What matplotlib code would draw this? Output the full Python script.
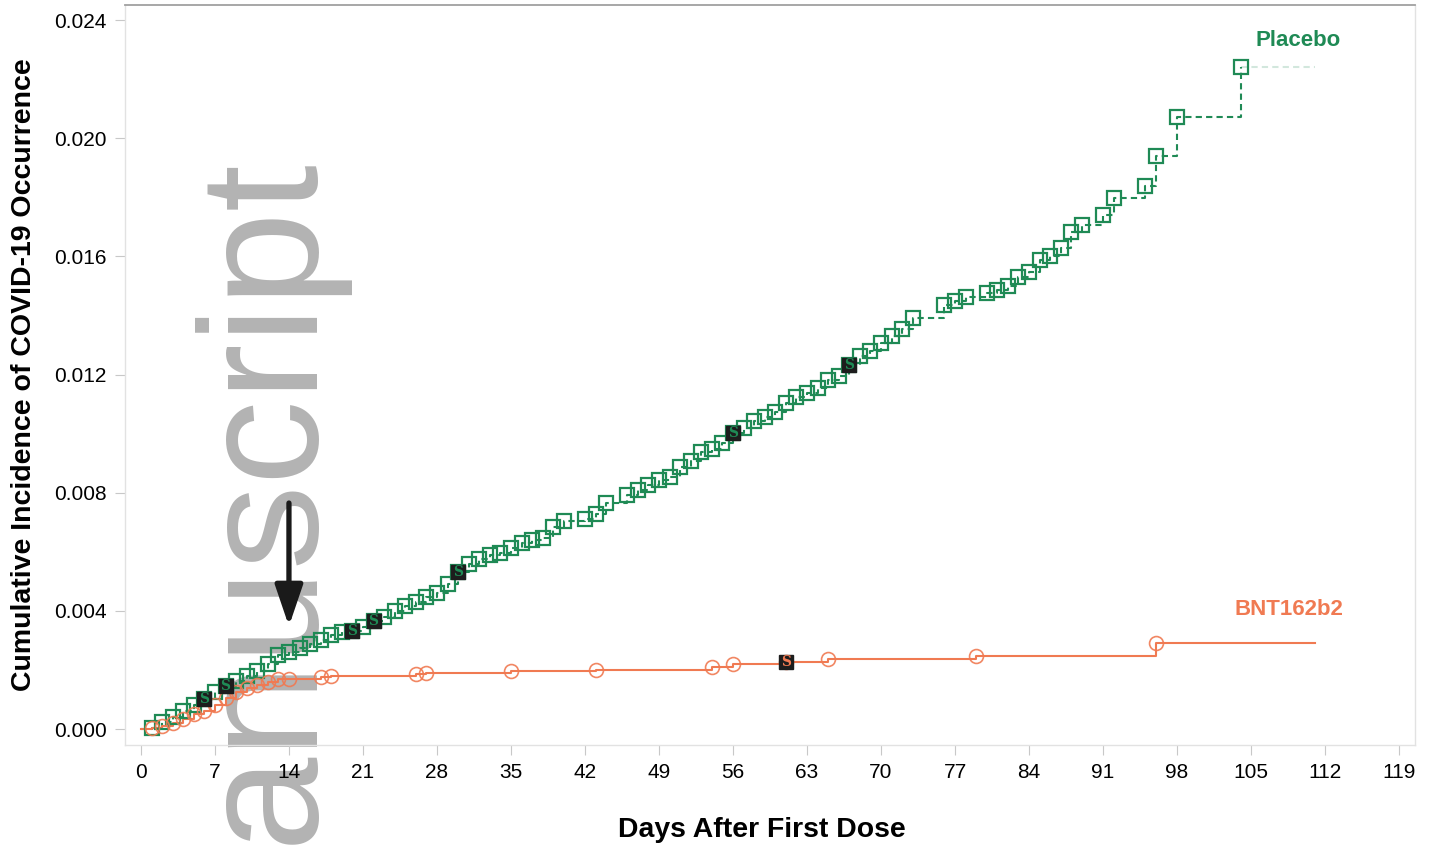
import matplotlib
matplotlib.use('Agg')
import matplotlib.pyplot as plt

plt.rcParams['font.family'] = ['Liberation Sans', 'DejaVu Sans']

# ---------------- data ----------------
placebo_days = [1, 2, 3, 4, 5, 6, 7, 8, 9, 10, 11, 12, 13, 14, 15, 16, 17, 18, 19, 20,
                21, 22, 23, 24, 25, 26, 27, 28, 29, 30, 31, 32, 33, 34, 35, 36, 37, 38, 39, 40,
                42, 43, 44, 46, 47, 48, 49, 50, 51, 52, 53, 54, 55, 56, 57, 58, 59, 60, 61, 62,
                63, 64, 65, 66, 67, 68, 69, 70, 71, 72, 73, 76, 77, 78, 80, 81, 82, 83, 84, 85,
                86, 87, 88, 89, 91, 92, 95, 96, 98, 104]
placebo_ci = [0.00003, 0.00024, 0.00041, 0.00061, 0.00081, 0.00102, 0.00125, 0.00146, 0.00162, 0.00179,
              0.00196, 0.00220, 0.00250, 0.00261, 0.00274, 0.00288, 0.00301, 0.00318, 0.00328, 0.00332,
              0.00345, 0.00366, 0.00379, 0.00399, 0.00416, 0.00430, 0.00447, 0.00460, 0.00491, 0.00531,
              0.00559, 0.00575, 0.00589, 0.00596, 0.00613, 0.00630, 0.00640, 0.00647, 0.00684, 0.00704,
              0.00711, 0.00728, 0.00765, 0.00792, 0.00809, 0.00826, 0.00843, 0.00853, 0.00887, 0.00907,
              0.00938, 0.00948, 0.00968, 0.01002, 0.01019, 0.01043, 0.01056, 0.01073, 0.01104, 0.01124,
              0.01137, 0.01154, 0.01181, 0.01195, 0.01232, 0.01263, 0.01280, 0.01307, 0.01330, 0.01354,
              0.01391, 0.01435, 0.01449, 0.01462, 0.01476, 0.01486, 0.01500, 0.01530, 0.01547, 0.01588,
              0.01601, 0.01628, 0.01682, 0.01706, 0.01740, 0.01797, 0.01838, 0.01940, 0.02072, 0.02241]
placebo_severe_days = [6, 8, 20, 22, 30, 56, 67]

bnt_days = [1, 2, 3, 4, 5, 6, 7, 8, 9, 10, 11, 12, 13, 14, 17, 18, 26, 27, 35, 43,
            54, 56, 61, 65, 79, 96]
bnt_ci = [0.00003, 0.00010, 0.00020, 0.00035, 0.00050, 0.00062, 0.00080, 0.00105, 0.00125, 0.00140,
          0.00150, 0.00160, 0.00169, 0.00170, 0.00176, 0.00180, 0.00186, 0.00190, 0.00196, 0.00200,
          0.00210, 0.00220, 0.00227, 0.00237, 0.00247, 0.00291]
bnt_severe_days = [61]

follow_up_end = 111
x_ticks = list(range(0, 120, 7))
y_ticks = [0.000, 0.004, 0.008, 0.012, 0.016, 0.020, 0.024]

GREEN = '#1f8a55'
ORANGE = '#f07a52'

# ---------------- figure ----------------
fig = plt.figure(figsize=(14.38, 8.5), dpi=100)
ax = fig.add_axes([0.0869, 0.1235, 0.8971, 0.8706])

# watermark (behind data)
ax.text(0.186, 0.007, 'anuscript', transform=fig.transFigure, rotation=90,
        fontsize=122, color='#b3b3b3', ha='center', va='bottom', zorder=0.5,
        clip_on=False)

# step lines
px = [0] + placebo_days
py = [0] + placebo_ci
ax.step(px, py, where='post', color=GREEN, lw=1.5, ls=(0, (3, 2)), zorder=2)
ax.plot([placebo_days[-1], follow_up_end], [placebo_ci[-1]] * 2, color=GREEN,
        lw=1.5, ls=(0, (3, 2)), alpha=0.2, zorder=2)

bx = [0] + bnt_days + [follow_up_end]
by = [0] + bnt_ci + [bnt_ci[-1]]
ax.step(bx, by, where='post', color=ORANGE, lw=1.5, zorder=2)

# markers
ax.plot(placebo_days, placebo_ci, ls='none', marker='s', ms=10, mfc='none',
        mec=GREEN, mew=1.6, zorder=3)
ax.plot(bnt_days, bnt_ci, ls='none', marker='o', ms=10, mfc='none',
        mec=ORANGE, mew=1.2, alpha=0.9, zorder=3)

# severe case markers
for d in placebo_severe_days:
    v = placebo_ci[placebo_days.index(d)]
    ax.plot([d], [v], marker='s', ms=10, mfc='#1d1d1d', mec='#1d1d1d', ls='none', zorder=4)
    ax.text(d, v, 'S', color=GREEN, fontsize=10, fontweight='bold', ha='center',
            va='center', family='DejaVu Serif', zorder=5)
for d in bnt_severe_days:
    v = bnt_ci[bnt_days.index(d)]
    ax.plot([d], [v], marker='s', ms=10, mfc='#1d1d1d', mec='#1d1d1d', ls='none', zorder=4)
    ax.text(d, v, 'S', color=ORANGE, fontsize=10, fontweight='bold', ha='center',
            va='center', family='DejaVu Serif', zorder=5)

# arrow
ax.annotate('', xy=(14, 0.00348), xytext=(14, 0.00765),
            arrowprops=dict(arrowstyle='-|>,head_length=1.0,head_width=0.34',
                            color='#1a1a1a', lw=3.8, mutation_scale=25,
                            shrinkA=0, shrinkB=0), zorder=6)

# series labels
ax.text(109.4, 0.02332, 'Placebo', color=GREEN, fontsize=16, fontweight='bold',
        ha='center', va='center')
ax.text(108.6, 0.00403, 'BNT162b2', color=ORANGE, fontsize=16, fontweight='bold',
        ha='center', va='center')

# axes
ax.set_xlim(-1.51, 120.5)
ax.set_ylim(-0.000542, 0.024508)
ax.set_xticks(x_ticks)
ax.set_yticks(y_ticks)
ax.set_yticklabels([f'{v:.3f}' for v in y_ticks])
ax.tick_params(axis='both', length=7, color='#c8c8c8', labelsize=15, pad=6)

for side in ['left', 'right', 'bottom']:
    ax.spines[side].set_color('#e2e2e2')
    ax.spines[side].set_linewidth(1.0)
ax.spines['top'].set_color('#a0a0a0')
ax.spines['top'].set_linewidth(1.3)

ax.set_xlabel('Days After First Dose', fontsize=20.4, fontweight='bold')
ax.xaxis.set_label_coords(0.494, -0.097)
ax.set_ylabel('Cumulative Incidence of COVID-19 Occurrence', fontsize=20.5,
              fontweight='bold')
ax.yaxis.set_label_coords(-0.068, 0.5)

fig.savefig('out.png', dpi=100)
